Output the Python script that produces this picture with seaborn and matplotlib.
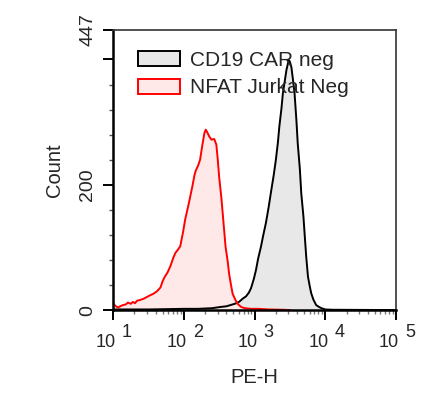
import numpy as np
import matplotlib
matplotlib.use('Agg')
import matplotlib.pyplot as plt
import seaborn as sns
from matplotlib.patches import Patch
from matplotlib.ticker import FixedLocator, LogLocator, NullFormatter
from matplotlib.transforms import blended_transform_factory, offset_copy

# histogram traces (x in log10(PE-H), y in counts)
cd19_log = [1.00, 1.50, 2.00, 2.20, 2.40, 2.52, 2.60, 2.66, 2.72, 2.78, 2.83, 2.88,
            2.92, 2.95, 2.99, 3.02, 3.05, 3.09, 3.12, 3.16, 3.20, 3.23, 3.27, 3.30,
            3.33, 3.35, 3.38, 3.40, 3.43, 3.45, 3.47, 3.485, 3.50, 3.52, 3.54, 3.565,
            3.59, 3.61, 3.64, 3.66, 3.69, 3.71, 3.73, 3.755, 3.78, 3.80, 3.83, 3.87,
            3.91, 3.945, 4.00, 4.10, 5.00]
cd19_count = [1, 1, 2, 2, 3, 5, 6, 8, 10, 13, 18, 22,
              28, 35, 50, 64, 82, 101, 118, 139, 165, 187, 215, 239,
              268, 293, 322, 346, 368, 383, 393, 399, 396, 388, 370, 346,
              305, 266, 225, 186, 150, 117, 85, 53, 38, 27, 17, 8,
              5, 3, 1, 0.5, 0]

nfat_log = [1.00, 1.03, 1.07, 1.10, 1.14, 1.18, 1.21, 1.25, 1.28, 1.31, 1.34, 1.38,
            1.43, 1.48, 1.53, 1.57, 1.62, 1.67, 1.70, 1.73, 1.77, 1.81, 1.85, 1.88,
            1.92, 1.95, 1.99, 2.02, 2.07, 2.12, 2.15, 2.17, 2.20, 2.23, 2.26, 2.29,
            2.31, 2.33, 2.36, 2.39, 2.43, 2.46, 2.48, 2.50, 2.53, 2.55, 2.59, 2.62,
            2.64, 2.67, 2.69, 2.73, 2.76, 2.81, 2.86, 2.95, 3.05, 3.20, 3.40, 3.50]
nfat_count = [11, 7, 4, 6, 8, 9, 12, 10, 13, 11, 15, 16,
              18, 21, 24, 26, 30, 36, 46, 53, 60, 70, 83, 91,
              97, 102, 125, 145, 170, 197, 215, 223, 230, 240, 262, 282,
              288, 284, 277, 272, 273, 264, 240, 212, 180, 154, 101, 78,
              58, 38, 26, 16, 10, 5, 3, 2, 2, 1, 0.5, 0]

labels = ['CD19 CAR neg', 'NFAT Jurkat Neg']
exponents = [1, 2, 3, 4, 5]

sns.set_style('ticks')
plt.rcParams['font.family'] = ['Liberation Sans', 'DejaVu Sans']

fig = plt.figure(figsize=(4.25, 3.95), dpi=100)
ax = fig.add_axes([0.266, 0.215, 0.666, 0.709])

cd19_x = 10 ** np.array(cd19_log)
nfat_x = 10 ** np.array(nfat_log)

ax.fill_between(cd19_x, cd19_count, color='#e8e8e8', lw=0)
sns.lineplot(x=cd19_x, y=cd19_count, color='black', lw=1.4, sort=False, ax=ax)
ax.fill_between(nfat_x, nfat_count, color='#ffe8e8', lw=0)
sns.lineplot(x=nfat_x, y=nfat_count, color='#ff0000', lw=1.4, sort=False, ax=ax)

ax.set_xscale('log')
ax.set_xlim(10, 1e5)
ax.set_ylim(0, 447)

# y ticks
ax.yaxis.set_major_locator(FixedLocator([0, 200, 400, 447]))
ax.set_yticklabels(['0', '200', '', '447'], rotation=90, va='center', fontsize=14)
ax.yaxis.set_minor_locator(FixedLocator([40, 80, 120, 160, 240, 280, 320, 360]))
ax.tick_params(axis='y', which='major', length=7, width=1.4, pad=5, color='black')
ax.tick_params(axis='y', which='minor', length=3, width=1.0, color='#555555')

# x ticks: labels drawn by hand as "10" plus raised exponent
ax.xaxis.set_major_locator(FixedLocator([10.0 ** k for k in exponents]))
ax.xaxis.set_minor_locator(LogLocator(base=10, subs=np.arange(2, 10)))
ax.xaxis.set_major_formatter(NullFormatter())
ax.xaxis.set_minor_formatter(NullFormatter())
ax.tick_params(axis='x', which='major', length=7, width=1.4, color='black')
ax.tick_params(axis='x', which='minor', length=3, width=1.0, color='#777777')

trans = blended_transform_factory(ax.transData, ax.transAxes)
for k in exponents:
    ax.text(10.0 ** k, 0, '10', fontsize=13, ha='right', va='baseline',
            transform=offset_copy(trans, fig, x=3, y=-37, units='dots'))
    ax.text(10.0 ** k, 0, str(k), fontsize=13, ha='left', va='baseline',
            transform=offset_copy(trans, fig, x=9, y=-27, units='dots'))

for side in ['left', 'bottom']:
    ax.spines[side].set_linewidth(1.8)
    ax.spines[side].set_color('black')
for side in ['top', 'right']:
    ax.spines[side].set_linewidth(1.2)
    ax.spines[side].set_color('#333333')

ax.set_xlabel('PE-H', fontsize=14.5, labelpad=31)
ax.set_ylabel('Count', fontsize=14.5, labelpad=11)

handles = [Patch(facecolor='#e8e8e8', edgecolor='black', lw=1.4),
           Patch(facecolor='#ffe8e8', edgecolor='#ff0000', lw=1.4)]
ax.legend(handles, labels, loc='upper left', bbox_to_anchor=(0.088, 0.925),
          frameon=False, fontsize=15, handlelength=2.0, handleheight=0.72,
          handletextpad=0.5, labelspacing=0.4, borderpad=0, borderaxespad=0)

fig.savefig('out.png', dpi=100)
